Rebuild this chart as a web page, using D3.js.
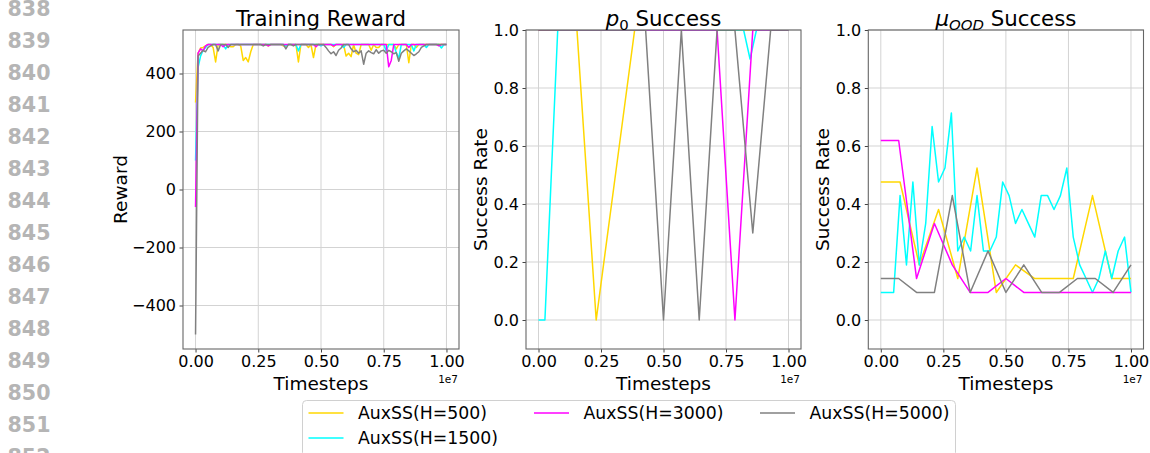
<!DOCTYPE html>
<html><head><meta charset="utf-8">
<script src="https://cdn.jsdelivr.net/npm/d3@7"></script>
<style>body{margin:0;background:#fff} svg{display:block} text{font-family:"DejaVu Sans",sans-serif}</style>
</head><body><svg id="c" width="1150" height="453"></svg>
<script>
// ---------------- data ----------------
const seriesNames = ["AuxSS(H=500)", "AuxSS(H=1500)", "AuxSS(H=3000)", "AuxSS(H=5000)"];
const seriesColors = ["#FFD700", "#00FFFF", "#FF00FF", "#808080"];
const xTicks = [0, 2.5e6, 5e6, 7.5e6, 1e7];
const xTickLabels = ["0.00", "0.25", "0.50", "0.75", "1.00"];
const rewardTicks = [-400, -200, 0, 200, 400];
const rateTicks = [0.0, 0.2, 0.4, 0.6, 0.8, 1.0];
const lineNumbers = ["838","839","840","841","842","843","844","845","846","847","848","849","850","851","852"];

// training reward, one value every 1e5 timesteps
const rewardStep = 1e5;
const rewardH500 = [
 300,470,488,490,495,500,500,490,440,500,
 500,500,500,500,492,492,500,500,495,445,
 455,440,475,500,500,500,500,500,500,495,
 500,500,500,500,500,495,495,500,500,500,
 500,440,500,500,500,490,500,455,500,500,
 500,500,500,500,500,492,500,500,500,500,
 460,470,458,500,470,465,500,500,500,500,
 480,500,490,490,500,500,500,500,500,500,
 485,500,500,500,500,437,500,500,490,500,
 500,500,500,500,500,500,500,500,500,500,500];
const rewardH1500 = [
 100,420,460,480,490,500,500,500,500,500,
 500,500,485,500,500,500,500,500,500,500,
 500,500,500,500,500,500,500,500,500,500,
 500,500,500,500,500,500,495,500,500,500,
 500,478,500,500,500,500,500,500,500,500,
 495,500,500,500,500,500,500,500,500,490,
 500,500,500,500,500,500,500,500,500,500,
 500,500,500,500,500,500,478,500,500,500,
 472,452,500,500,500,500,500,478,500,500,
 500,500,490,500,500,500,500,500,488,500,500];
const rewardH3000 = [
 -60,470,485,478,495,500,500,500,500,500,
 500,492,500,500,500,500,500,500,500,500,
 500,500,500,500,500,500,500,500,500,495,
 500,500,500,500,500,500,500,500,500,500,
 500,500,500,500,500,500,500,500,492,500,
 500,500,500,500,500,495,500,500,500,500,
 500,500,500,500,500,500,500,500,500,500,
 500,500,500,500,500,500,500,423,445,500,
 500,500,500,500,500,490,500,500,500,500,
 500,500,500,500,500,500,500,495,500,500,500];
const rewardH5000 = [
 -500,460,470,480,475,490,495,500,500,478,
 500,500,500,490,500,500,500,500,500,500,
 500,500,500,500,500,500,500,495,500,500,
 500,500,500,500,500,500,485,500,500,495,
 500,500,500,500,500,500,500,500,500,500,
 500,500,490,478,468,475,462,480,488,500,
 500,500,485,475,480,470,478,432,470,478,
 472,468,482,470,478,480,470,480,475,468,
 472,442,470,478,485,478,470,462,468,475,
 490,495,500,500,500,500,500,500,500,500,500];

// p0 success rate (evaluations evenly spaced over the run)
const p0H500  = [1,1,1,0,0.5,1,1,1,1,1,1,1,1,1];
const p0H1500 = [0,0,0.5,1,1,1,1,1,1,1, 1,1,1,1,1,1,1,1,1,1, 1,1,1,1,1,1,1,1,1,1, 1,1,1,0.9,1,1,1,1,1,1];
const p0H3000 = [1,1,1,1,1,1,1,1,1,1,1,0,1,1,1];
const p0H5000 = [1,1,1,1,1,1,1,0,1,0,1,1,0.3,1,1];

// mu_OOD success rate
const oodH500  = [0.476,0.476,0.190,0.381,0.143,0.524,0.095,0.190,0.143,0.143,0.143,0.429,0.143,0.143];
const oodH1500 = [0.095,0.095,0.095,0.429,0.190,0.476,0.190,0.333,0.667,0.476,
                  0.524,0.714,0.238,0.286,0.238,0.429,0.238,0.238,0.286,0.476,
                  0.429,0.333,0.381,0.333,0.286,0.429,0.429,0.381,0.429,0.524,
                  0.286,0.190,0.143,0.095,0.143,0.238,0.143,0.238,0.286,0.095];
const oodH3000 = [0.619,0.619,0.143,0.333,0.190,0.095,0.095,0.143,0.095,0.095,0.095,0.095,0.095,0.095,0.095];
const oodH5000 = [0.143,0.143,0.095,0.095,0.429,0.095,0.238,0.095,0.190,0.095,0.095,0.143,0.143,0.095,0.190];

// ---------------- drawing ----------------
const svg = d3.select("#c");
svg.append("rect").attr("width",1150).attr("height",453).attr("fill","#fff");

// paper line numbers
svg.append("g").selectAll("text").data(lineNumbers).join("text")
  .attr("x", 7.5).attr("y", (d,i) => 16.4 + i*31.95)
  .attr("font-family","'Liberation Sans',Arial,sans-serif").attr("font-weight","bold")
  .attr("font-size", 20.6).attr("fill","#b5b5b5").text(d => d);

const TOTAL = 1e7;
function evalSeries(vals){ return vals.map((v,i)=>[i/(vals.length-1)*TOTAL, v]); }
function stepSeries(vals){ return vals.map((v,i)=>[i*rewardStep, v]); }

const panels = [
  {left:183, right:459, title:[{t:"Training Reward"}], ylabel:"Reward", ylabelX:127,
   yDomain:[-550,550], yTicks:rewardTicks, yFmt:d3.format("d"),
   data:[rewardH500,rewardH1500,rewardH3000,rewardH5000].map(stepSeries)},
  {left:526, right:801, title:[{t:"p",it:true},{t:"0",sub:true},{t:" Success"}], ylabel:"Success Rate", ylabelX:487,
   yDomain:[-0.1,1.0], yTicks:rateTicks, yFmt:d3.format(".1f"),
   data:[p0H500,p0H1500,p0H3000,p0H5000].map(evalSeries)},
  {left:868.3, right:1143.5, title:[{t:"μ",it:true},{t:"OOD",sub:true,it:true},{t:" Success"}], ylabel:"Success Rate", ylabelX:829,
   yDomain:[-0.1,1.0], yTicks:rateTicks, yFmt:d3.format(".1f"),
   data:[oodH500,oodH1500,oodH3000,oodH5000].map(evalSeries)}
];
const plotTop = 30, plotBottom = 349;

panels.forEach((p, pi) => {
  const x = d3.scaleLinear().domain([-0.05*TOTAL, 1.05*TOTAL]).range([p.left, p.right]);
  const y = d3.scaleLinear().domain(p.yDomain).range([plotBottom, plotTop]);
  const g = svg.append("g");
  const cid = "clip"+pi;
  g.append("clipPath").attr("id",cid).append("rect")
    .attr("x",p.left).attr("y",plotTop).attr("width",p.right-p.left).attr("height",plotBottom-plotTop);

  // grid
  g.append("g").selectAll("line").data(xTicks).join("line")
    .attr("x1",d=>x(d)).attr("x2",d=>x(d)).attr("y1",plotTop).attr("y2",plotBottom)
    .attr("stroke","#d3d3d3").attr("stroke-width",1);
  g.append("g").selectAll("line").data(p.yTicks).join("line")
    .attr("y1",d=>y(d)).attr("y2",d=>y(d)).attr("x1",p.left).attr("x2",p.right)
    .attr("stroke","#d3d3d3").attr("stroke-width",1);

  // lines
  const line = d3.line().x(d=>x(d[0])).y(d=>y(d[1]));
  const lg = g.append("g").attr("clip-path",`url(#${cid})`);
  p.data.forEach((s, si) => {
    lg.append("path").attr("d", line(s)).attr("fill","none")
      .attr("stroke", seriesColors[si]).attr("stroke-width",1.5).attr("stroke-linejoin","round");
  });

  // axes
  const xa = g.append("g").attr("transform",`translate(0,${plotBottom})`)
    .call(d3.axisBottom(x).tickValues(xTicks).tickFormat((d,i)=>xTickLabels[i]).tickSize(3.5).tickPadding(3.5));
  const ya = g.append("g").attr("transform",`translate(${p.left},0)`)
    .call(d3.axisLeft(y).tickValues(p.yTicks).tickFormat(p.yFmt).tickSize(3.5).tickPadding(3.5));
  [xa, ya].forEach(a => {
    a.select(".domain").remove();
    a.selectAll("line").attr("stroke","#444");
    a.selectAll("text").attr("font-size",16).attr("fill","#000").attr("font-family","'DejaVu Sans',sans-serif");
  });

  // frame
  g.append("rect").attr("x",p.left).attr("y",plotTop).attr("width",p.right-p.left).attr("height",plotBottom-plotTop)
    .attr("fill","none").attr("stroke","#666").attr("stroke-width",1.1);

  // offset text
  g.append("text").attr("x",p.right-1).attr("y",383).attr("text-anchor","end")
    .attr("font-size",10.5).attr("fill","#000").text("1e7");

  // x label
  g.append("text").attr("x",(p.left+p.right)/2).attr("y",389.5).attr("text-anchor","middle")
    .attr("font-size",18.5).attr("fill","#000").text("Timesteps");
  // y label
  g.append("text").attr("transform",`translate(${p.ylabelX},${(plotTop+plotBottom)/2}) rotate(-90)`)
    .attr("text-anchor","middle").attr("font-size",18.5).attr("fill","#000").text(p.ylabel);

  // title
  const tt = g.append("text").attr("x",(p.left+p.right)/2).attr("y",26).attr("text-anchor","middle")
    .attr("font-size",21.3).attr("fill","#000");
  p.title.forEach(part => {
    const ts = tt.append("tspan").text(part.t);
    if (part.it) ts.attr("font-style","italic");
    if (part.sub) ts.attr("font-size",14.9).attr("dy",4);
    else if (tt.selectAll("tspan").size()>1 && part.t.startsWith(" ")) ts.attr("dy",-4);
  });
});

// legend
const leg = svg.append("g");
leg.append("rect").attr("x",302.5).attr("y",400.5).attr("width",653).attr("height",56).attr("rx",4)
  .attr("fill","#fff").attr("fill-opacity",0.8).attr("stroke","#d0d0d0").attr("stroke-width",1);
const legPos = [[308.5,413],[308.5,438],[534,413],[760,413]];
seriesNames.forEach((n,i) => {
  const [lx, ly] = legPos[i];
  leg.append("line").attr("x1",lx).attr("x2",lx+35).attr("y1",ly).attr("y2",ly)
    .attr("stroke",seriesColors[i]).attr("stroke-width",1.5);
  leg.append("text").attr("x",lx+49.5).attr("y",ly+6).attr("font-size",17.3).attr("fill","#000").text(n);
});
</script></body></html>
